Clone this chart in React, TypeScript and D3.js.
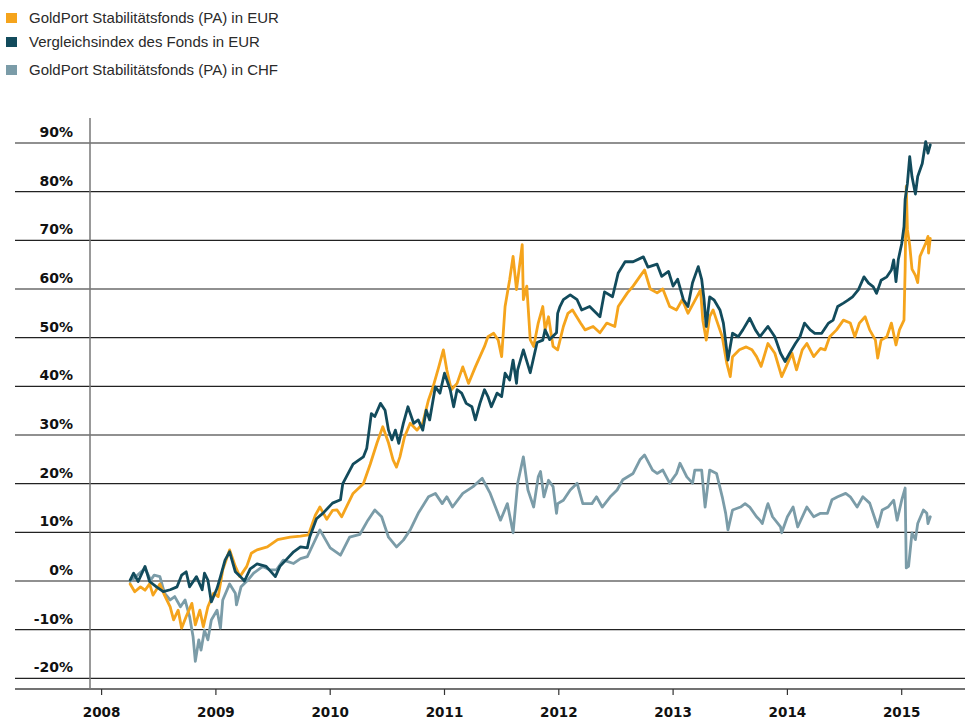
import React from "react";
import * as d3 from "d3";

const seriesNames = [
  "GoldPort Stabilitätsfonds (PA) in EUR",
  "Vergleichsindex des Fonds in EUR",
  "GoldPort Stabilitätsfonds (PA) in CHF",
];
const seriesColors = ["#f5a41c", "#124b5c", "#7b9ca8"];

const yTicks = [-20, -10, 0, 10, 20, 30, 40, 50, 60, 70, 80, 90];
const xTicks = [2008, 2009, 2010, 2011, 2012, 2013, 2014, 2015];

// [decimal year, % change]
const fundEUR: [number, number][] = [
  [2008.25, -0.6], [2008.29, -2.2], [2008.34, -1.2], [2008.38, -1.9], [2008.42, -0.6], [2008.45, -2.9],
  [2008.51, -0.6], [2008.55, -2.9], [2008.6, -5.3], [2008.63, -8], [2008.67, -6], [2008.7, -9.7],
  [2008.74, -7.3], [2008.79, -4.6], [2008.82, -9], [2008.86, -6], [2008.89, -9.4], [2008.93, -5.3],
  [2008.98, -2.5], [2009.02, -3.2], [2009.06, 2.3], [2009.12, 6.4], [2009.17, 3], [2009.21, 0.9],
  [2009.27, 3], [2009.31, 5.7], [2009.36, 6.4], [2009.45, 7], [2009.54, 8.5], [2009.65, 9],
  [2009.74, 9.2], [2009.81, 9.5], [2009.87, 13.5], [2009.91, 15.2], [2009.97, 12.7], [2010.02, 14.5],
  [2010.06, 14.6], [2010.1, 13.2], [2010.2, 18], [2010.29, 20], [2010.35, 24], [2010.41, 28.4],
  [2010.46, 31.7], [2010.51, 28.4], [2010.55, 24.9], [2010.58, 23.4], [2010.61, 25.5], [2010.65, 29.6],
  [2010.7, 32.4], [2010.76, 31], [2010.81, 32.5], [2010.86, 37.2], [2010.9, 39.9], [2010.95, 44],
  [2010.99, 47.5], [2011.02, 43.4], [2011.06, 39.3], [2011.11, 40.6], [2011.16, 44], [2011.21, 40.6],
  [2011.27, 44], [2011.31, 46.1], [2011.35, 48.2], [2011.38, 50.2], [2011.43, 50.9], [2011.47, 49.5],
  [2011.5, 46.1], [2011.53, 56.4], [2011.57, 61.9], [2011.6, 66.7], [2011.63, 59.9], [2011.68, 69.1],
  [2011.69, 57.8], [2011.72, 60.6], [2011.75, 49.6], [2011.78, 48.2], [2011.82, 53], [2011.86, 56.4],
  [2011.88, 51.6], [2011.91, 54.3], [2011.95, 48.2], [2011.99, 47.5], [2012.04, 52.3], [2012.08, 55],
  [2012.12, 55.7], [2012.19, 53], [2012.23, 51.6], [2012.3, 52.3], [2012.36, 51], [2012.42, 53],
  [2012.49, 52.3], [2012.52, 56.4], [2012.6, 59.2], [2012.65, 60.6], [2012.71, 62.6], [2012.75, 63.9],
  [2012.8, 60], [2012.86, 59.2], [2012.91, 60], [2012.97, 56.4], [2013.03, 55.7], [2013.08, 57.8],
  [2013.13, 55], [2013.21, 58.5], [2013.24, 59.8], [2013.26, 53.6], [2013.29, 49.5], [2013.32, 54.3],
  [2013.35, 55.7], [2013.38, 53.6], [2013.43, 50.2], [2013.47, 44.7], [2013.5, 42], [2013.52, 46.1],
  [2013.58, 47.5], [2013.64, 48.1], [2013.69, 47.5], [2013.73, 46.1], [2013.77, 44.1], [2013.83, 48.8],
  [2013.89, 46.8], [2013.95, 42], [2013.99, 44.1], [2014.04, 46.8], [2014.08, 43.4], [2014.13, 47.5],
  [2014.17, 48.8], [2014.23, 46.1], [2014.29, 47.8], [2014.33, 47.5], [2014.37, 50.2], [2014.43, 51.6],
  [2014.49, 53.6], [2014.55, 53], [2014.59, 50.2], [2014.63, 53], [2014.68, 54.3], [2014.72, 51.6],
  [2014.77, 49.5], [2014.79, 45.8], [2014.82, 49.5], [2014.87, 50.2], [2014.91, 53], [2014.95, 48.5],
  [2014.98, 51.6], [2015.02, 53.6], [2015.03, 63.9], [2015.04, 81.1], [2015.05, 72.2], [2015.07, 69],
  [2015.09, 64.1], [2015.12, 62.8], [2015.14, 61.3], [2015.16, 66.7], [2015.21, 69.4], [2015.23, 70.8],
  [2015.235, 67.4], [2015.25, 70.4],
];

const indexEUR: [number, number][] = [
  [2008.25, 0.2], [2008.28, 1.6], [2008.32, -0.1], [2008.38, 3], [2008.42, -0.1], [2008.48, -1.2],
  [2008.54, -2.2], [2008.6, -1.8], [2008.66, -1.2], [2008.7, 1.2], [2008.74, 1.9], [2008.77, -1.2],
  [2008.83, 0.9], [2008.88, -1.8], [2008.9, 1.6], [2008.93, 0.2], [2008.96, -4.3], [2009.01, -1.5],
  [2009.04, 0.9], [2009.08, 4.3], [2009.12, 6], [2009.17, 1.9], [2009.21, 1], [2009.25, 0],
  [2009.3, 2.5], [2009.36, 3.5], [2009.44, 3], [2009.52, 0.9], [2009.56, 3], [2009.62, 4.5],
  [2009.68, 6], [2009.74, 7], [2009.8, 6.8], [2009.82, 9], [2009.88, 12.8], [2009.94, 14],
  [2010.02, 16], [2010.09, 16.7], [2010.11, 20], [2010.2, 24], [2010.29, 25.5], [2010.32, 27.3],
  [2010.36, 34.4], [2010.39, 33.8], [2010.44, 36.5], [2010.48, 35.1], [2010.51, 31], [2010.54, 29],
  [2010.57, 31], [2010.6, 28.3], [2010.64, 32.4], [2010.68, 35.8], [2010.73, 32.4], [2010.77, 33.1],
  [2010.81, 31], [2010.84, 35.1], [2010.87, 33.1], [2010.92, 39.9], [2010.96, 38.6], [2011.0, 42.7],
  [2011.05, 39.3], [2011.08, 35.8], [2011.11, 39.3], [2011.15, 38.6], [2011.19, 36.5], [2011.24, 35.8],
  [2011.27, 33.1], [2011.31, 36.5], [2011.35, 39.3], [2011.38, 37.9], [2011.41, 35.8], [2011.46, 38.6],
  [2011.5, 37.9], [2011.53, 42.7], [2011.57, 41.3], [2011.6, 45.4], [2011.63, 40.6], [2011.64, 43.4],
  [2011.69, 47.5], [2011.75, 42.8], [2011.81, 49], [2011.86, 49.5], [2011.88, 51.6], [2011.92, 49.6],
  [2011.98, 51], [2011.99, 55], [2012.01, 56.4], [2012.04, 57.8], [2012.1, 58.8], [2012.16, 57.8],
  [2012.2, 55.7], [2012.27, 56.4], [2012.36, 54.3], [2012.4, 59.4], [2012.47, 58.4], [2012.52, 63.3],
  [2012.58, 65.6], [2012.65, 65.6], [2012.74, 66.6], [2012.78, 64.5], [2012.86, 65.1], [2012.9, 62.6],
  [2012.96, 63.6], [2013.0, 60.6], [2013.04, 62], [2013.09, 57.8], [2013.13, 56.4], [2013.17, 61.3],
  [2013.22, 64.6], [2013.25, 62], [2013.27, 58], [2013.29, 52.3], [2013.32, 58.4], [2013.36, 57.7],
  [2013.41, 55.7], [2013.44, 53], [2013.48, 45.4], [2013.52, 50.9], [2013.57, 50.2], [2013.61, 51.6],
  [2013.67, 54], [2013.72, 51.6], [2013.76, 50.2], [2013.83, 52.3], [2013.89, 50.2], [2013.94, 46.8],
  [2013.98, 45.1], [2014.02, 46.8], [2014.07, 48.8], [2014.11, 50.2], [2014.15, 53], [2014.2, 51.6],
  [2014.24, 50.9], [2014.3, 50.9], [2014.36, 53], [2014.4, 53.6], [2014.44, 56.4], [2014.49, 57.1],
  [2014.53, 57.7], [2014.57, 58.4], [2014.62, 59.8], [2014.67, 62.5], [2014.71, 61.2], [2014.75, 60.5],
  [2014.78, 59.1], [2014.82, 61.8], [2014.87, 62.5], [2014.91, 63.9], [2014.93, 66], [2014.95, 61.5],
  [2014.97, 66], [2015.0, 69.3], [2015.02, 72.8], [2015.03, 78.4], [2015.05, 81.7], [2015.07, 87.2],
  [2015.09, 83.1], [2015.12, 79.5], [2015.14, 83.1], [2015.18, 85.8], [2015.21, 90.3], [2015.23, 87.9],
  [2015.25, 89.6],
];

const fundCHF: [number, number][] = [
  [2008.25, -0.1], [2008.3, 0.9], [2008.38, 2.6], [2008.43, 0.2], [2008.46, 1.2], [2008.51, 0.9],
  [2008.55, -2.5], [2008.6, -3.9], [2008.64, -3.2], [2008.69, -5.3], [2008.73, -3.9], [2008.77, -7.3],
  [2008.8, -11.4], [2008.82, -16.5], [2008.85, -12.1], [2008.87, -14.2], [2008.9, -10.1], [2008.93, -12.1],
  [2008.96, -8], [2009.01, -6], [2009.04, -9.7], [2009.06, -3.9], [2009.12, -0.6], [2009.17, -2.5],
  [2009.18, -4.9], [2009.22, -1.2], [2009.28, 0.2], [2009.33, 1.6], [2009.41, 3], [2009.47, 2.3],
  [2009.53, 2.3], [2009.59, 4.3], [2009.68, 3.6], [2009.74, 4.6], [2009.8, 5], [2009.85, 7.5],
  [2009.91, 10.5], [2010.0, 6.8], [2010.09, 5.3], [2010.17, 9], [2010.26, 9.6], [2010.33, 12.5],
  [2010.39, 14.6], [2010.45, 13.2], [2010.51, 9], [2010.58, 7], [2010.64, 8.4], [2010.7, 10.5],
  [2010.77, 13.9], [2010.86, 17.3], [2010.92, 18], [2010.98, 15.9], [2011.02, 17.3], [2011.07, 15.2],
  [2011.16, 18], [2011.25, 19.4], [2011.33, 21.1], [2011.4, 18], [2011.49, 12.5], [2011.55, 15.9],
  [2011.6, 9.9], [2011.64, 20.1], [2011.69, 25.5], [2011.73, 18.7], [2011.78, 15.2], [2011.82, 21.4],
  [2011.84, 22.5], [2011.87, 17.3], [2011.91, 20.7], [2011.95, 19.4], [2011.98, 13.9], [2011.99, 15.9],
  [2012.04, 16.6], [2012.1, 18.7], [2012.16, 20.1], [2012.21, 15.9], [2012.29, 15.9], [2012.33, 17.3],
  [2012.38, 15.2], [2012.45, 17.3], [2012.51, 18.7], [2012.56, 20.8], [2012.65, 22.1], [2012.71, 24.9],
  [2012.75, 25.9], [2012.82, 22.8], [2012.86, 22.1], [2012.91, 22.8], [2012.97, 20.1], [2013.03, 22.1],
  [2013.06, 24.2], [2013.12, 21.4], [2013.17, 20.1], [2013.19, 22.8], [2013.25, 22.8], [2013.28, 15.2],
  [2013.32, 22.8], [2013.38, 22.1], [2013.43, 17.3], [2013.46, 13.9], [2013.48, 10.5], [2013.52, 14.6],
  [2013.59, 15.2], [2013.63, 15.9], [2013.67, 15.2], [2013.73, 13.2], [2013.76, 12.5], [2013.78, 11.8],
  [2013.82, 15.2], [2013.83, 15.9], [2013.87, 13.2], [2013.94, 11.1], [2013.95, 9.9], [2014.0, 13.2],
  [2014.05, 15.2], [2014.09, 11.1], [2014.17, 15.2], [2014.23, 13.2], [2014.29, 13.9], [2014.35, 13.9],
  [2014.39, 16.7], [2014.44, 17.3], [2014.51, 18], [2014.55, 17.3], [2014.61, 15.2], [2014.66, 17.3],
  [2014.72, 16], [2014.79, 11.1], [2014.83, 14.6], [2014.88, 15.2], [2014.93, 16.6], [2014.96, 12.5],
  [2015.0, 16.6], [2015.03, 19.1], [2015.04, 2.7], [2015.06, 3], [2015.09, 9.9], [2015.12, 8.5],
  [2015.14, 11.8], [2015.19, 14.6], [2015.22, 13.9], [2015.23, 11.8], [2015.25, 13.2],
];

const W = 965;
const H = 720;

export default function App() {
  const x = d3.scaleLinear().domain([2008, 2015]).range([101.6, 901.7]);
  const y = d3.scaleLinear().domain([0, 90]).range([581, 143]);
  const line = d3
    .line<[number, number]>()
    .x((d) => x(d[0]))
    .y((d) => y(d[1]));

  const drawOrder: { data: [number, number][]; color: string }[] = [
    { data: fundCHF, color: seriesColors[2] },
    { data: fundEUR, color: seriesColors[0] },
    { data: indexEUR, color: seriesColors[1] },
  ];

  const legendY = [23, 47, 75];
  const gridLeft = 15;
  const gridRight = 965;
  const axisY = 689;

  return (
    <svg
      width={W}
      height={H}
      style={{ position: "absolute", left: 0, top: 0, background: "#fff" }}
    >
      {seriesNames.map((name, i) => (
        <g key={name}>
          <rect x={6} y={legendY[i] - 10} width={11} height={10} fill={seriesColors[i]} />
          <text
            x={29}
            y={legendY[i]}
            fontFamily="'Liberation Sans', Arial, sans-serif"
            fontSize={15}
            fill="#2a2a2a"
          >
            {name}
          </text>
        </g>
      ))}

      {yTicks.map((t) => (
        <g key={t}>
          <line x1={gridLeft} x2={gridRight} y1={y(t)} y2={y(t)} stroke="#222" strokeWidth={1.2} />
          <text
            x={73}
            y={y(t) - 6}
            textAnchor="end"
            fontFamily="'DejaVu Sans', sans-serif"
            fontWeight="bold"
            fontSize={14}
            fill="#111"
          >
            {`${t}%`}
          </text>
        </g>
      ))}

      <line x1={gridLeft} x2={gridRight} y1={axisY} y2={axisY} stroke="#444" strokeWidth={1.5} />
      <line x1={90} x2={90} y1={118} y2={axisY} stroke="#777" strokeWidth={1.5} />
      {xTicks.map((t) => (
        <g key={t}>
          <line x1={x(t)} x2={x(t)} y1={axisY} y2={axisY + 6} stroke="#333" strokeWidth={1.2} />
          <text
            x={x(t)}
            y={717}
            textAnchor="middle"
            fontFamily="'DejaVu Sans', sans-serif"
            fontWeight="bold"
            fontSize={13.5}
            fill="#111"
          >
            {t}
          </text>
        </g>
      ))}

      {drawOrder.map((s, i) => (
        <path
          key={i}
          d={line(s.data) || ""}
          fill="none"
          stroke={s.color}
          strokeWidth={2.8}
          strokeLinejoin="round"
          strokeLinecap="round"
        />
      ))}
    </svg>
  );
}
